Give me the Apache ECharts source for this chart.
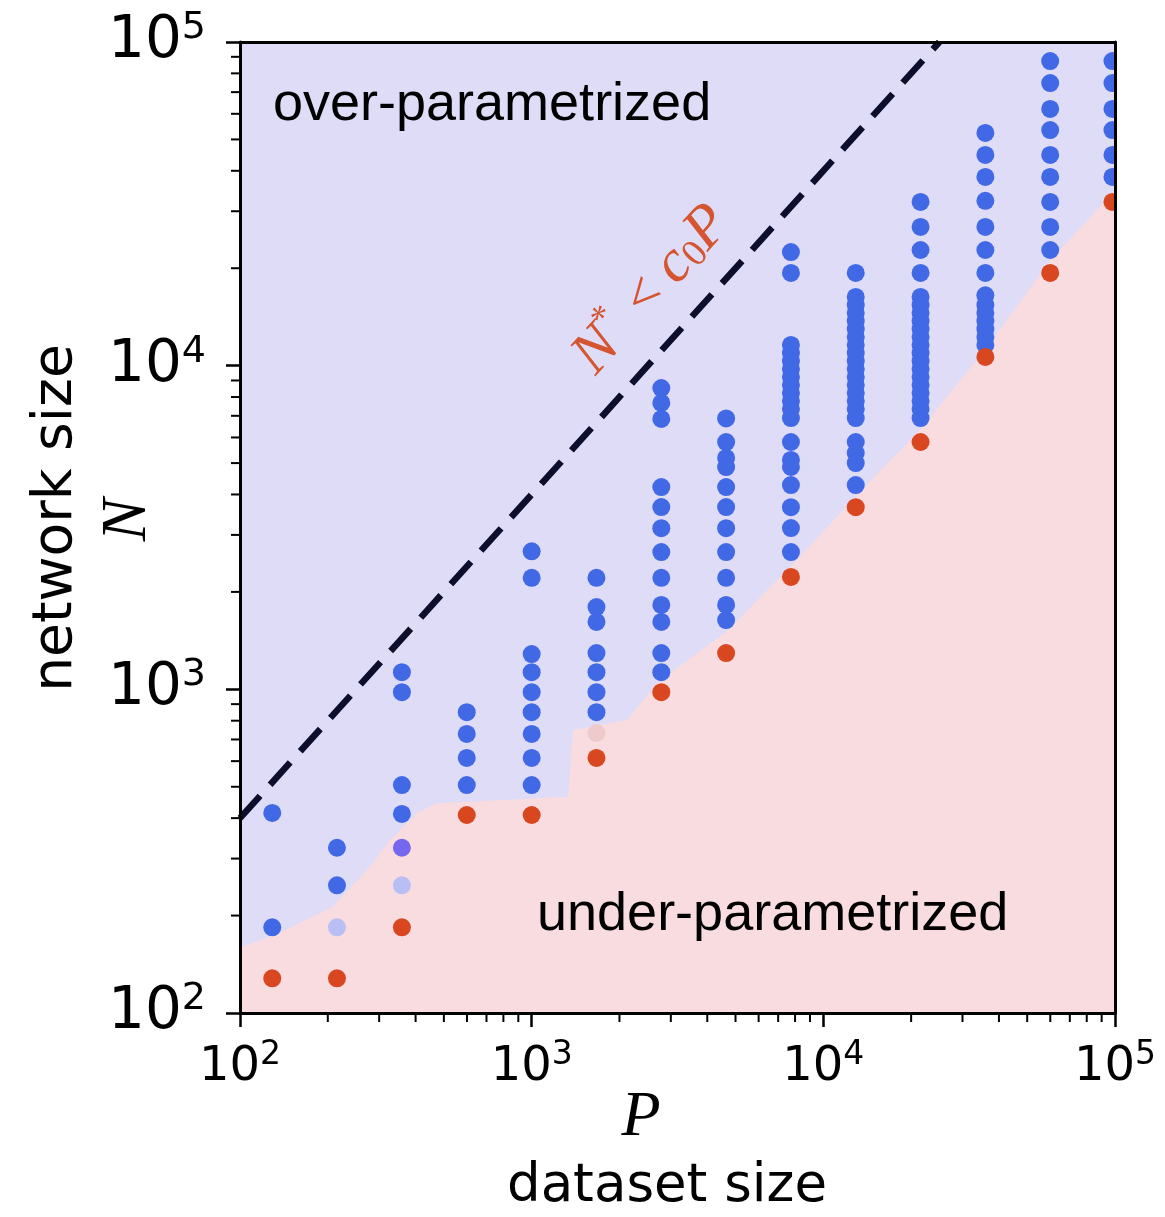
<!DOCTYPE html>
<html>
<head>
<meta charset="utf-8">
<script src="https://cdn.jsdelivr.net/npm/echarts/dist/echarts.min.js"></script>
<style>
html,body{margin:0;padding:0;background:#fff;}
#chart{width:1165px;height:1217px;}
</style>
</head>
<body>
<div id="chart"></div>
<script>
// ---- data ----
const datasetP = [129, 215, 359, 599, 1000, 1668, 2783, 4642, 7743, 12915, 21544, 35938, 59948, 98000];

const blueN = [
  [415, 184],
  [324, 248],
  [1130, 980, 506, 412],
  [850, 728, 614, 506],
  [2670, 2210, 1285, 1130, 980, 850, 728, 614, 506],
  [2210, 1795, 1615, 1294, 1130, 980, 850],
  [8530, 7670, 6845, 4216, 3657, 3148, 2655, 2210, 1823, 1615, 1294, 1130],
  [6870, 5807, 5186, 4862, 4216, 3657, 3148, 2655, 2210, 1823, 1637],
  [22440, 19340, 11590, 10940, 10330, 9770, 9230, 8720, 8240, 7780, 7350, 6890, 5810, 5115, 4865, 4275, 3655, 3150, 2655],
  [19340, 16300, 15390, 14550, 13740, 12980, 12270, 11590, 10940, 10330, 9770, 9230, 8720, 8240, 7780, 7350, 6890, 5810, 5370, 5000, 4275],
  [32050, 26820, 22770, 19340, 16300, 15390, 14550, 13740, 12980, 12270, 11590, 10940, 10330, 9770, 9230, 8720, 8240, 7780, 7350, 6890],
  [52360, 44770, 38280, 32300, 26820, 22770, 19340, 16500, 15390, 14550, 13740, 12980, 12270, 11590],
  [87300, 74660, 62100, 53460, 44770, 38280, 32050, 26820, 22770],
  [87300, 74660, 62100, 53460, 44770, 38280]
];
const redN = [128, 128, 184, 409, 409, 614, 980, 1294, 2225, 3655, 5810, 10640, 19340, 32050];

const lightBlueP = [215, 359];
const lightBlueN = [184, 248];
const purpleP = [359];
const purpleN = [324];
const paleRedP = [1668];
const paleRedN = [733];

// boundary of the under-parametrized (pink) region
const boundaryP = [100, 137, 208, 279, 327, 404, 474, 1280, 1333, 1386, 2123, 2700, 4634, 7690, 12850, 21430, 35830, 59430, 100000];
const boundaryN = [159, 177, 213, 283, 342, 415, 445, 465, 465, 749, 804, 1050, 1504, 2388, 3930, 6325, 11170, 20900, 34900];

// threshold line N* = c0 P
const lineP = [100, 25000];
const lineN = [400, 100000];

// axis ticks
const majorTicks = [100, 1000, 10000, 100000];
const minorTickValues = [];
for (let d = 100; d < 100000; d *= 10) for (let k = 2; k <= 9; k++) minorTickValues.push(d * k);

// ---- chart ----
const zip = (a, b) => a.map((v, i) => [v, b[i]]);
const blueData = [];
blueN.forEach((col, i) => col.forEach(n => blueData.push([datasetP[i], n])));
const redData = zip(datasetP, redN);

const chart = echarts.init(document.getElementById('chart'), null, {renderer: 'canvas'});

const supLabel = {
  b: {fontSize: 58, fontFamily: 'DejaVu Sans', color: '#000'},
  s: {fontSize: 38, fontFamily: 'DejaVu Sans', color: '#000', padding: [0, 0, 28, 0]}
};
const supLabelX = {
  b: {fontSize: 48, fontFamily: 'DejaVu Sans', color: '#000'},
  s: {fontSize: 33, fontFamily: 'DejaVu Sans', color: '#000', padding: [0, 0, 24, 0]}
};
const fmt = v => '{b|10}{s|' + Math.round(Math.log10(v)) + '}';

const option = {
  animation: false,
  backgroundColor: '#fff',
  grid: {left: 240, right: 50, top: 42, bottom: 204, show: true, backgroundColor: '#dfdcf8', borderWidth: 0},
  xAxis: [{
    type: 'log', logBase: 10, min: 100, max: 100000, z: 5,
    axisLine: {show: true, lineStyle: {color: '#000', width: 3}},
    axisTick: {show: true, inside: false, length: 14, lineStyle: {color: '#000', width: 2.5}},
    splitLine: {show: false},
    axisLabel: {margin: 26, formatter: fmt, rich: supLabelX}
  }, {
    type: 'log', logBase: 10, min: 100, max: 100000, position: 'top', z: 5,
    axisLine: {show: true, lineStyle: {color: '#000', width: 3}},
    axisTick: {show: false}, axisLabel: {show: false}, splitLine: {show: false}
  }],
  yAxis: [{
    type: 'log', logBase: 10, min: 100, max: 100000, z: 5,
    axisLine: {show: true, lineStyle: {color: '#000', width: 3}},
    axisTick: {show: true, inside: false, length: 14, lineStyle: {color: '#000', width: 2.5}},
    splitLine: {show: false},
    axisLabel: {margin: 34, formatter: fmt, rich: supLabel}
  }, {
    type: 'log', logBase: 10, min: 100, max: 100000, position: 'right', z: 5,
    axisLine: {show: true, lineStyle: {color: '#000', width: 3}},
    axisTick: {show: false}, axisLabel: {show: false}, splitLine: {show: false}
  }],
  series: [
    {
      type: 'line', name: 'under', data: zip(boundaryP, boundaryN), symbol: 'none', z: 1,
      lineStyle: {width: 0},
      areaStyle: {color: '#f8dcdf', opacity: 1, origin: 'start'}
    },
    {
      type: 'line', name: 'threshold', data: zip(lineP, lineN), symbol: 'none', z: 3,
      lineStyle: {color: '#0c0e2c', width: 6.5, type: [30, 15]}
    },
    {
      type: 'scatter', data: blueData, symbolSize: 18, z: 4,
      itemStyle: {color: '#4169e6', opacity: 1}
    },
    {
      type: 'scatter', data: redData, symbolSize: 18, z: 4,
      itemStyle: {color: '#d8471f', opacity: 1}
    },
    {
      type: 'scatter', data: zip(lightBlueP, lightBlueN), symbolSize: 18, z: 4,
      itemStyle: {color: '#b9bff4', opacity: 1}
    },
    {
      type: 'scatter', data: zip(purpleP, purpleN), symbolSize: 18, z: 4,
      itemStyle: {color: '#7568ee', opacity: 1}
    },
    {
      type: 'scatter', data: zip(paleRedP, paleRedN), symbolSize: 18, z: 4,
      itemStyle: {color: '#efcacd', opacity: 1}
    },
    {
      type: 'custom', name: 'minorX', data: minorTickValues.map(v => [v]), z: 6, clip: false,
      renderItem: (params, api) => {
        const p = api.coord([api.value(0), 100]);
        return {type: 'line', shape: {x1: p[0], y1: p[1], x2: p[0], y2: p[1] + 9}, style: {stroke: '#000', lineWidth: 2}};
      }
    },
    {
      type: 'custom', name: 'minorY', data: minorTickValues.map(v => [100, v]), z: 6, clip: false,
      renderItem: (params, api) => {
        const p = api.coord([100, api.value(1)]);
        return {type: 'line', shape: {x1: p[0], y1: p[1], x2: p[0] - 9, y2: p[1]}, style: {stroke: '#000', lineWidth: 2}};
      }
    }
  ],
  graphic: [
    {type: 'rect', left: 1117, top: 0, shape: {width: 48, height: 1012}, style: {fill: '#fff'}, z: 100},
    {type: 'text', x: 273, y: 105, z: 50,
      style: {text: 'over-parametrized', fontFamily: 'Liberation Sans', fontSize: 54, fill: '#000', align: 'left', verticalAlign: 'middle'}},
    {type: 'text', x: 537, y: 915, z: 50,
      style: {text: 'under-parametrized', fontFamily: 'Liberation Sans', fontSize: 54, fill: '#000', align: 'left', verticalAlign: 'middle'}},
    {type: 'text', x: 652, y: 290, rotation: 48 * Math.PI / 180, z: 50,
      style: {
        text: '{n|N}{sup|*}{lt| < }{n|c}{sub|0}{n|P}',
        align: 'center', verticalAlign: 'middle',
        rich: {
          n: {fontFamily: 'Liberation Serif', fontStyle: 'italic', fontSize: 60, fill: '#d4552f'},
          sup: {fontFamily: 'Liberation Serif', fontSize: 36, fill: '#d4552f', padding: [0, 4, 34, 0]},
          lt: {fontFamily: 'Liberation Serif', fontSize: 56, fill: '#d4552f'},
          sub: {fontFamily: 'Liberation Serif', fontSize: 38, fill: '#d4552f', padding: [18, 0, 0, 0]}
        }
      }},
    {type: 'text', x: 57, y: 518, rotation: Math.PI / 2, z: 50,
      style: {text: 'network size', fontFamily: 'DejaVu Sans', fontSize: 55, fill: '#000', align: 'center', verticalAlign: 'middle'}},
    {type: 'text', x: 128, y: 520, rotation: Math.PI / 2, z: 50,
      style: {text: 'N', fontFamily: 'Liberation Serif', fontStyle: 'italic', fontSize: 64, fill: '#000', align: 'center', verticalAlign: 'middle'}},
    {type: 'text', x: 641, y: 1118, z: 50,
      style: {text: 'P', fontFamily: 'Liberation Serif', fontStyle: 'italic', fontSize: 64, fill: '#000', align: 'center', verticalAlign: 'middle'}},
    {type: 'text', x: 667, y: 1187, z: 50,
      style: {text: 'dataset size', fontFamily: 'DejaVu Sans', fontSize: 53, fill: '#000', align: 'center', verticalAlign: 'middle'}}
  ]
};
chart.setOption(option);
</script>
</body>
</html>
